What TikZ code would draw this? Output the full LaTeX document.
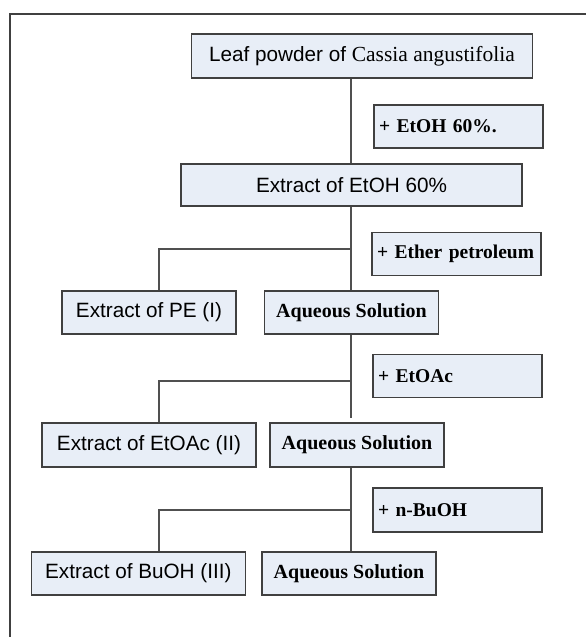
\documentclass[tikz,border=0pt]{standalone}
\usepackage{fontspec}
\setmainfont{Liberation Serif}
\newfontfamily\arialfont{Liberation Sans}
\usepackage{xcolor}
\usepackage{tikz}
\usetikzlibrary{calc, positioning}
\definecolor{boxfill}{RGB}{232,238,247}
\definecolor{boxline}{RGB}{64,64,64}
\definecolor{linkgray}{RGB}{80,80,80}
\tikzset{
    extractnode/.style = {draw=boxline, fill=boxfill, rectangle, line width=1.1pt, inner sep=0pt, 
      font=\arialfont\fontsize{20.7}{23}\selectfont},
    solutionnode/.style = {draw=boxline, fill=boxfill, rectangle, line width=1.1pt, inner sep=0pt, 
      minimum width=174pt, minimum height=43pt, font=\bfseries\fontsize{20}{22}\selectfont},
    reagentnode/.style = {draw=boxline, fill=boxfill, rectangle, line width=1.1pt, inner xsep=5pt, 
      text width=159pt, align=left, minimum height=43pt, font=\bfseries\fontsize{19.5}{22}\selectfont},
    connect/.style = {draw=linkgray, line width=1.2pt},
    framestyle/.style = {draw=boxline, line width=1.2pt}
}

\begin{document}
\begin{tikzpicture}[x=1pt, y=-1pt]
\useasboundingbox (0,0) rectangle (586,637);
\draw [framestyle] (10,637) -- (10,14) -- (586,14);
\coordinate (trunk) at (351,0);
\coordinate (drop) at (159,0);

\node [extractnode, name=Leaf, minimum width=341pt, minimum height=44pt] at (362,56) 
{Leaf powder of {\rmfamily\fontsize{21.5}{23}\selectfont Cassia angustifolia}};
\node [reagentnode, name=AddEtOH] at (458.5,126.5) {+ EtOH 60\%.};
\node [extractnode, name=EtOH, minimum width=341pt, minimum height=42pt] at (351.5,185) 
{Extract of EtOH 60\%};
\draw [connect] (Leaf.south -| trunk) -- (EtOH.north -| trunk);

% first partition
\node [reagentnode, name=AddPE] at (456.5,254) {+ Ether petroleum};
\node [extractnode, name=PE, minimum width=174pt, minimum height=43pt] at (149,312.5) {Extract of PE (I)};
\node [solutionnode, name=Aq1] at (351.5,312.5) {Aqueous Solution};
\coordinate (split1) at (351,249);
\draw [connect] (EtOH.south -| trunk) -- (Aq1.north -| trunk);
\draw [connect] (split1) -| (PE.north -| drop);

% second partition
\node [reagentnode, name=AddEtOAc] at (457.5,376) {+ EtOAc};
\node [extractnode, name=EtOAc, minimum width=214pt, minimum height=44pt] at (149,445) {Extract of EtOAc (II)};
\node [solutionnode, name=Aq2, minimum height=44pt] at (357,445) {Aqueous Solution};
\coordinate (split2) at (351,381);
\draw [connect] (Aq1.south -| trunk) -- ([yshift=4pt]Aq2.north -| trunk);
\draw [connect] (split2) -| (EtOAc.north -| drop);

% third partition
\node [reagentnode, name=AddBuOH, minimum height=44pt] at (457.5,510) {+ n-BuOH};
\node [extractnode, name=BuOH, minimum width=213.5pt, minimum height=43pt] at (138.3,573.5) {Extract of BuOH (III)};
\node [solutionnode, name=Aq3] at (349,573.5) {Aqueous Solution};
\coordinate (split3) at (351,510);
\draw [connect] (Aq2.south -| trunk) -- (Aq3.north -| trunk);
\draw [connect] (split3) -| (BuOH.north -| drop);
\end{tikzpicture}
\end{document}
